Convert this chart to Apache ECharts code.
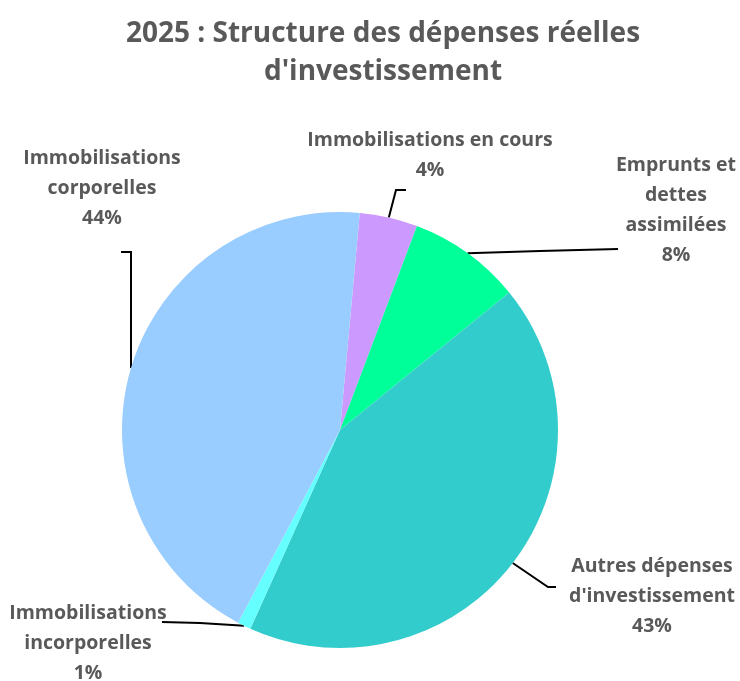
<!DOCTYPE html>
<html>
<head>
<meta charset="utf-8">
<script src="https://cdn.jsdelivr.net/npm/echarts@6/dist/echarts.min.js"></script>
<style>
  html, body { margin: 0; padding: 0; background: #fff; }
  #chart { width: 740px; height: 681px; }
</style>
</head>
<body>
<div id="chart"></div>
<script>
// données (sens horaire depuis le haut)
var categories = [
  'Immobilisations en cours',
  'Emprunts et dettes assimilées',
  "Autres dépenses d'investissement",
  'Immobilisations incorporelles',
  'Immobilisations corporelles'
];
var labelTexts = [
  'Immobilisations en cours',
  'Emprunts et\ndettes\nassimilées',
  "Autres dépenses\nd'investissement",
  'Immobilisations\nincorporelles',
  'Immobilisations\ncorporelles'
];
var values = [4.3, 8.4, 42.6, 1.0, 43.7];
var colors = ['#CC99FF', '#00FF99', '#33CCCC', '#66FFFF', '#99CCFF'];

// placement des étiquettes (centre x, haut y) et coudes des traits de rappel
var labelPos = {
  'Immobilisations en cours': { x: 430, y: 125, bend: [396, 190], end: [406, 190] },
  'Emprunts et dettes assimilées': { x: 676, y: 150, bend: [540, 251], end: [618, 249] },
  "Autres dépenses d'investissement": { x: 652, y: 551, bend: [548, 587], end: [556, 587] },
  'Immobilisations incorporelles': { x: 88, y: 598, bend: [200, 623], end: [162, 622] },
  'Immobilisations corporelles': { x: 102, y: 143, bend: [131, 252], end: [121, 252] }
};

var myChart = echarts.init(document.getElementById('chart'));

var seriesData = categories.map(function (c, i) {
  return {
    name: c,
    value: values[i],
    itemStyle: { color: colors[i] },
    label: { formatter: labelTexts[i] + '\n{d}%' }
  };
});

myChart.setOption({
  animation: false,
  title: {
    text: "2025 : Structure des dépenses réelles\nd'investissement",
    left: 383,
    top: 15,
    padding: 0,
    textAlign: 'center',
    textStyle: {
      fontFamily: 'Open Sans',
      fontSize: 28,
      fontWeight: 'bold',
      color: '#595959',
      lineHeight: 38
    }
  },
  series: [
    {
      type: 'pie',
      center: [340, 430],
      radius: 218,
      startAngle: 84.8,
      clockwise: true,
      avoidLabelOverlap: false,
      percentPrecision: 0,
      label: {
        show: true,
        position: 'outside',
        fontFamily: 'Open Sans',
        fontSize: 19.5,
        fontWeight: 'bold',
        color: '#595959',
        lineHeight: 30,
        align: 'center'
      },
      labelLine: {
        show: true,
        lineStyle: { color: '#000', width: 2 }
      },
      labelLayout: function (params) {
        var name = categories[params.dataIndex];
        var p = labelPos[name];
        var start = params.labelLinePoints ? params.labelLinePoints[0] : p.bend;
        return {
          x: p.x,
          y: p.y,
          align: 'center',
          verticalAlign: 'top',
          labelLinePoints: [start, p.bend, p.end]
        };
      },
      data: seriesData
    }
  ]
});
</script>
</body>
</html>
